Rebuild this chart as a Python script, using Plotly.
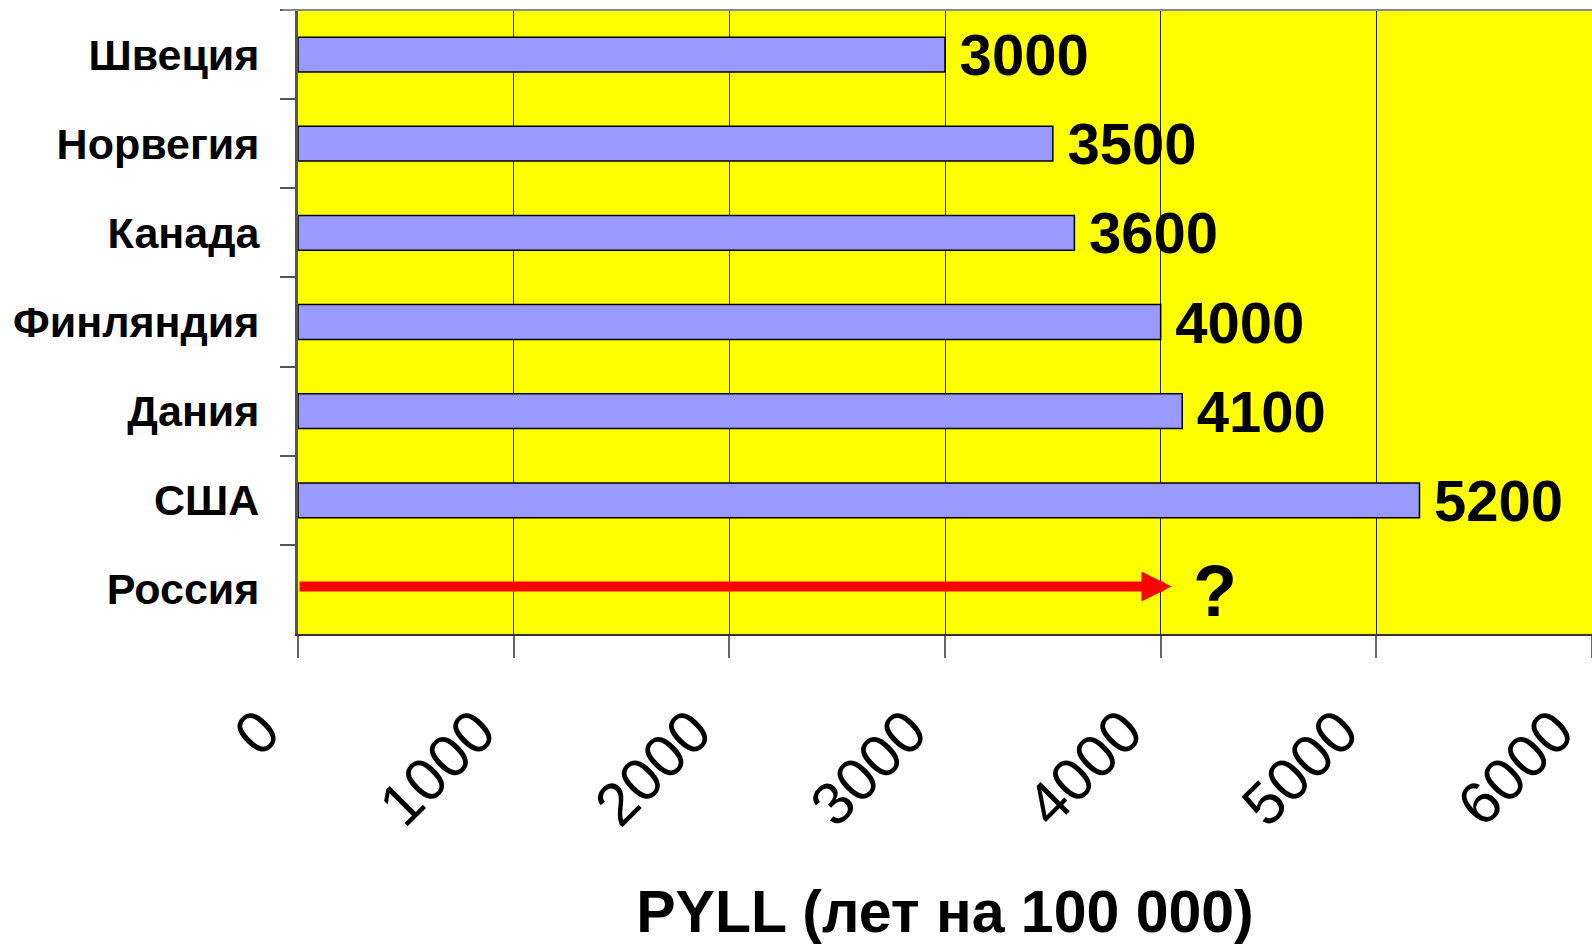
import plotly.graph_objects as go

countries = ["Швеция", "Норвегия", "Канада", "Финляндия", "Дания", "США", "Россия"]
pyll = [3000, 3500, 3600, 4000, 4100, 5200, None]
russia_label = "Россия"
russia_arrow_value = 4050
russia_text = "?"
x_ticks = [0, 1000, 2000, 3000, 4000, 5000, 6000]
x_title = "PYLL (лет на 100 000)"

FONT = "Liberation Sans, Arial, sans-serif"

fig = go.Figure()
fig.add_trace(go.Bar(
    y=countries,
    x=pyll,
    orientation="h",
    width=0.39,
    marker=dict(color="#9999FF", line=dict(color="black", width=1.5)),
    text=["\u2009" + str(v) if v is not None else "" for v in pyll],
    textposition="outside",
    constraintext="none",
    cliponaxis=False,
    textfont=dict(family=FONT, size=58, color="black", weight="bold"),
    hoverinfo="skip",
))

fig.add_annotation(
    x=russia_arrow_value, y=russia_label, xref="x", yref="y",
    ax=0, ay=russia_label, axref="x", ayref="y",
    text="", showarrow=True, arrowhead=2, arrowsize=0.6, arrowwidth=10,
    arrowcolor="#FF0000", yshift=3,
)
fig.add_annotation(
    x=russia_arrow_value, y=russia_label, xref="x", yref="y",
    text="<b>" + russia_text + "</b>", showarrow=False, xanchor="left",
    xshift=20, yshift=-2,
    font=dict(family=FONT, size=72, color="black"),
)

# top border line
fig.add_shape(type="line", xref="paper", yref="paper", x0=-0.012, x1=1, y0=1, y1=1,
              line=dict(color="#888888", width=2))

fig.update_layout(
    width=1592, height=947,
    margin=dict(l=298, r=0, t=10, b=313, autoexpand=False),
    paper_bgcolor="white",
    plot_bgcolor="#FFFF00",
    showlegend=False,
    bargap=0.61,
    xaxis=dict(
        range=[0, 6000],
        automargin=False,
        tickvals=x_ticks,
        ticktext=[str(v) for v in x_ticks],
        tickangle=-45,
        ticks="outside", ticklen=22, tickwidth=2, tickcolor="#666666",
        showgrid=True, gridcolor="#222222", gridwidth=1,
        zeroline=False,
        showline=True, linecolor="#333333", linewidth=2,
        tickfont=dict(family=FONT, size=60, color="black"),
        ticklabelstandoff=14,
        ticklabelshift=-36,
        ticklabeloverflow="allow",
        title=dict(text="<b>" + x_title + "</b>", standoff=53,
                   font=dict(family=FONT, size=59, color="black")),
    ),
    yaxis=dict(
        categoryorder="array", categoryarray=countries,
        autorange="reversed",
        automargin=False,
        tickson="boundaries",
        ticks="outside", ticklen=15, tickwidth=2, tickcolor="#555555",
        showgrid=False,
        showline=True, linecolor="#555555", linewidth=3,
        tickfont=dict(family=FONT, size=43, color="black", weight="bold"),
        ticklabelstandoff=27,
    ),
)

fig.write_html(
    "out.html",
    config={"displayModeBar": False},
    post_script="document.body.style.margin='0';document.body.style.overflow='hidden';",
)
